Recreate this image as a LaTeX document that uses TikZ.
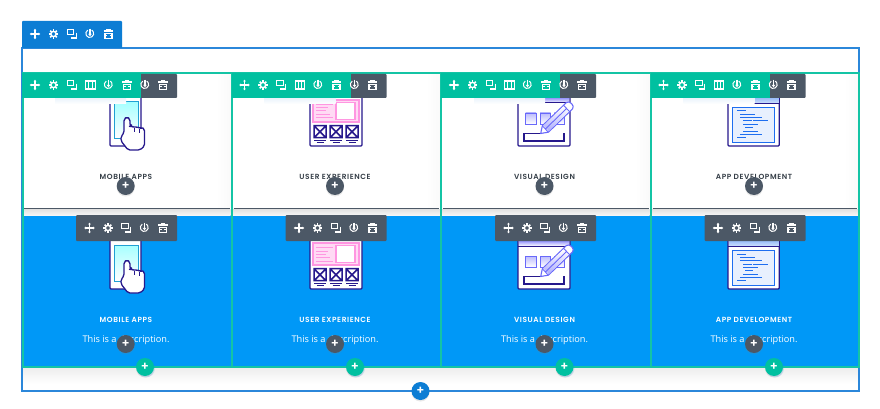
\documentclass[tikz,border=0pt]{standalone}
\usepackage{fontspec}
\usepackage{tikz}
\usetikzlibrary{calc,positioning,shadows}
\newfontfamily\capfont[LetterSpace=8,BoldFont={Poppins SemiBold}]{Poppins}
\setmainfont{Open Sans}
\definecolor{rowblue}{RGB}{43, 135, 218}
\definecolor{barblue}{RGB}{12, 125, 212}
\definecolor{bargreen}{RGB}{0, 192, 160}
\definecolor{linegreen}{RGB}{20, 196, 165}
\definecolor{bardark}{RGB}{76, 88, 102}
\definecolor{modblue}{RGB}{0, 152, 247}
\definecolor{navy}{RGB}{38, 24, 140}
\definecolor{pinkish}{RGB}{255, 150, 225}
\definecolor{violet1}{RGB}{105, 105, 250}
\definecolor{codeblue}{RGB}{30, 110, 240}

\tikzset{
  wl/.style={draw=white, line width=1.1pt, line cap=butt},
  every pic/.style={scale=.88},
  pics/moveicon/.style={code={
    \draw[wl] (-5,0) -- (5,0) (0,-5) -- (0,5);
    \fill[white] (-6,0) -- (-4,-1.7) -- (-4,1.7) -- cycle (6,0) -- (4,-1.7) -- (4,1.7) -- cycle
      (0,-6) -- (-1.7,-4) -- (1.7,-4) -- cycle (0,6) -- (-1.7,4) -- (1.7,4) -- cycle;
  }},
  pics/gearicon/.style={code={
    \draw[wl, line width=1.4pt] (0,0) circle[radius=3pt];
    \foreach \a in {0,45,...,315}
      \draw[wl, rotate=\a, line width=1.5pt] (3.4pt,0pt) -- (5.3pt,0pt);
  }},
  pics/copyicon/.style={code={
    \draw[wl] (-5.4,-4.8) rectangle (1.8,1);
    \draw[wl] (5,-1.5) -- (5,4.6) -- (-1.6,4.6);
  }},
  pics/colicon/.style={code={
    \draw[wl, line width=1.1pt] (-5.6,-4.6) rectangle (5.6,4.6);
    \draw[wl, line width=1.1pt] (-1.9,-4.6) -- (-1.9,4.6) (1.9,-4.6) -- (1.9,4.6);
  }},
  pics/powericon/.style={code={
    \draw[wl, line width=1pt] (-2.6,-4.4) arc[start angle=121, end angle=419, radius=4.5pt];
    \draw[wl] (0,-6) -- (0,1);
    \fill[white] (0,2.6) -- (-2.1,-0.2) -- (2.1,-0.2) -- cycle;
  }},
  pics/trashicon/.style={code={
    \draw[wl, line width=1.1pt] (-5.4,-3.4) -- (5.4,-3.4) (-2.2,-3.4) -- (-2.2,-5.6) -- (2.2,-5.6) -- (2.2,-3.4);
    \draw[wl] (-4,-0.8) rectangle (4,5.4);
    \draw[wl, line width=.9pt] (-4,2.2) -- (-1.4,2.2) (1.4,2.2) -- (4,2.2);
  }},
  plusdark/.style={circle, fill=bardark, minimum size=18pt, inner sep=0pt, text=white,
    font=\capfont\bfseries\fontsize{12}{12}\selectfont,
    drop shadow={opacity=.18, shadow xshift=0pt, shadow yshift=-1.5pt}},
  plusgreen/.style={plusdark, fill=bargreen, drop shadow={opacity=.18, fill=rowblue, shadow xshift=1pt, shadow yshift=-1.5pt}},
  plusblue/.style={plusdark, fill=barblue},
  toplabel/.style={text=bardark!70!black, font=\capfont\bfseries\fontsize{7.4}{8}\selectfont},
  lowlabel/.style={text=white, font=\capfont\bfseries\fontsize{7.4}{8}\selectfont},
  desclabel/.style={text=white, font=\fontsize{9.2}{12}\selectfont},
  icon/.style={draw=navy, line width=1.3pt, line join=round},
}

\newcommand{\fivetools}[2]{
  \pic at (#1,#2) {moveicon};
  \pic at (#1+18.5,#2) {gearicon};
  \pic at (#1+37,#2) {copyicon};
  \pic at (#1+55,#2) {powericon};
  \pic at (#1+73.5,#2) {trashicon};
}
\newcommand{\phoneicon}{
  \filldraw[icon, fill=white, rounded corners=1pt] (110,90) rectangle (141,146);
  \shade[top color=cyan!35!white, bottom color=white] (114,102) rectangle (138,138);
  \draw[draw=cyan!70!teal, line width=1pt] (114,102) rectangle (138,138);
  \filldraw[icon, fill=white, rounded corners=1.8pt] (124,119) -- (124,133) -- (121,136.5) -- (121,141)
    -- (125,146) -- (128,150) -- (140,150) -- (144.5,146) -- (144.5,129) -- (141.5,127) -- (139.5,129)
    -- (137,126) -- (134,128) -- (131,125.5) -- (130,126) -- (130,119) -- (127,116.8) -- cycle;
  \draw[navy, line width=1pt] (134,128) -- (134,132) (139.5,129) -- (139.5,133);
}
\newcommand{\uxicon}{
  \filldraw[icon, fill=white, rounded corners=1pt] (310,90) rectangle (362,146);
  \filldraw[draw=pinkish, fill=pinkish!35!white, line width=1.2pt] (313,100) rectangle (359,122);
  \filldraw[draw=pinkish, fill=white, line width=1.2pt] (336,102.5) rectangle (355,119.5);
  \foreach \yy/\xe in {104.5/333, 108/328, 111/326, 114.5/330, 118/333}
    \draw[pinkish, line width=1pt] (316,\yy) -- (\xe,\yy);
  \foreach \xx in {314,330,346} {
    \draw[navy, line width=1.5pt] (\xx,125.7) rectangle ++(12,12) (\xx,125.7) -- ++(12,12) (\xx+12,125.7) -- ++(-12,12);
    \draw[navy, line width=1pt] (\xx,140.2) -- ++(12,0) (\xx+2.5,142.8) -- ++(7,0);
  }
}
\newcommand{\vdicon}{
  \filldraw[icon, fill=white, rounded corners=1pt] (518,90) rectangle (570,146);
  \shade[top color=violet1!70!white, bottom color=white] (519,98) rectangle (569,103);
  \draw[navy, line width=1pt] (518,103) -- (570,103);
  \foreach \xx in {525.5,540,554}
    \filldraw[draw=violet1, top color=violet1!45!white, bottom color=white, line width=.9pt] (\xx,113) rectangle ++(10.5,11);
  \draw[navy, line width=1.1pt] (564,133) -- (564,141) -- (524,141) -- (524,133.5) -- (541,133.5);
  \begin{scope}[shift={(540.7,133.5)}, rotate=44]
    \filldraw[draw=violet1, fill=white, line width=1.1pt, line join=round] (0,0) -- (6.5,-4.4) -- (40,-4.4)
      .. controls (44,-4.4) and (44,4.4) .. (40,4.4) -- (6.5,4.4) -- cycle;
    \shade[top color=white, bottom color=violet1!55!white] (7.5,3.8) rectangle (35,-3.8);
    \draw[violet1, line width=.9pt] (6.5,-4.4) -- (6.5,4.4) (36,-4.4) -- (36,4.4) (7,0) -- (36,0);
  \end{scope}
}
\newcommand{\adicon}{
  \filldraw[icon, fill=white, rounded corners=1pt] (728,90) rectangle (779.3,146);
  \shade[top color=codeblue!45!white, bottom color=codeblue!20!white] (729,98) rectangle (778.6,103.4);
  \draw[navy, line width=1pt] (728,103.4) -- (779.3,103.4);
  \filldraw[draw=codeblue, fill=codeblue!10!white, line width=1.1pt] (732.7,107.7) rectangle (774.3,142.3);
  \foreach \yy/\xa/\xb in {111/737.3/746, 114.3/740/755, 117.7/740/761.7, 121/743.3/751.7, 121/753.3/768,
      124.3/743.3/758.3, 127.7/745/753.3, 131/743.3/758.3, 134.3/740/761.7, 137.7/737.3/746}
    \draw[codeblue, line width=1pt] (\xa,\yy) -- (\xb,\yy);
}

\begin{document}
\begin{tikzpicture}[x=1pt, y=-1pt]
  \useasboundingbox (0,0) rectangle (880,409);
  \fill[white] (0,0) rectangle (880,409);

  % section and row outlines
  \shade[top color=black!7, bottom color=white] (23,367) rectangle (858,384);
  \draw[rowblue, line width=1.3pt] (22,48) rectangle (859,391);

  % modules
  \fill[modblue] (23,215) rectangle (858,366.5);
  \foreach \xa/\xb in {23/230.5, 232.5/440, 442/649.5, 651.5/858} {
    \shade[top color=black!12, bottom color=black!4] (\xa,209) rectangle (\xb,215);
    \draw[bardark, line width=1pt] (\xa+1,208) -- (\xb-1,208);
    \shade[left color=white, right color=black!2] (\xb-14,75) rectangle (\xb,207.5);
  }
  \foreach \sh in {0,143} {
    \begin{scope}[shift={(0,\sh)}]
      \phoneicon
      \uxicon
      \vdicon
      \adicon
    \end{scope}
  }
  \draw[linegreen, line width=2pt] (22.5,73) rectangle (858.5,367);
  \foreach \xx in {231.5,441,650.5}
    \draw[linegreen, line width=2pt] (\xx,73) -- (\xx,367);

  % texts
  \foreach \n/\xx/\t in {1/126/MOBILE APPS, 2/335/USER EXPERIENCE, 3/544.5/VISUAL DESIGN, 4/754/APP DEVELOPMENT} {
    \node[toplabel] (toplabel\n) at (\xx,177) {\t};
    \node[lowlabel] (lowlabel\n) at (\xx,320) {\t};
    \node[desclabel] (desc\n) at (\xx,340.5) {This is a description.};
  }

  % toolbars of the columns and modules
  \foreach \n/\dx in {1/0, 2/209.5, 3/419, 4/628.5} {
    \begin{scope}[shift={(\dx,0)}]
      \shade[top color=rowblue!10!white, bottom color=white] (55,98) rectangle (126,104);
      \fill[bardark, rounded corners=1pt] (130,74) rectangle (177,98);
      \fill[bargreen] (22,73) rectangle (141,98);
      \pic at (35,85) {moveicon};
      \pic at (53.5,85) {gearicon};
      \pic at (72,85) {copyicon};
      \pic at (90.5,85) {colicon};
      \pic at (108.5,85) {powericon};
      \pic at (127,85) {trashicon};
      \pic at (145,85) {powericon};
      \pic at (163,85) {trashicon};
      \fill[bardark, rounded corners=1pt] (76,215) rectangle (177,241);
      \fivetools{89.5}{228}
    \end{scope}
  }

  % toolbar of the section
  \fill[barblue, rounded corners=1pt] (22,21) rectangle (122,48);
  \fill[barblue] (22,40) rectangle (122,48);
  \fivetools{35}{34}

  % add buttons
  \foreach \n/\xx/\xg in {1/125.7/145, 2/335/355, 3/544.5/564.5, 4/754/774} {
    \node[plusdark] (plustop\n) at (\xx,186) {+};
    \node[plusdark] (pluslow\n) at (\xx,344) {+};
    \node[plusgreen] (plusrow\n) at (\xg,367) {+};
  }
  \node[plusblue] (plussec) at (420.5,391) {+};
\end{tikzpicture}
\end{document}
